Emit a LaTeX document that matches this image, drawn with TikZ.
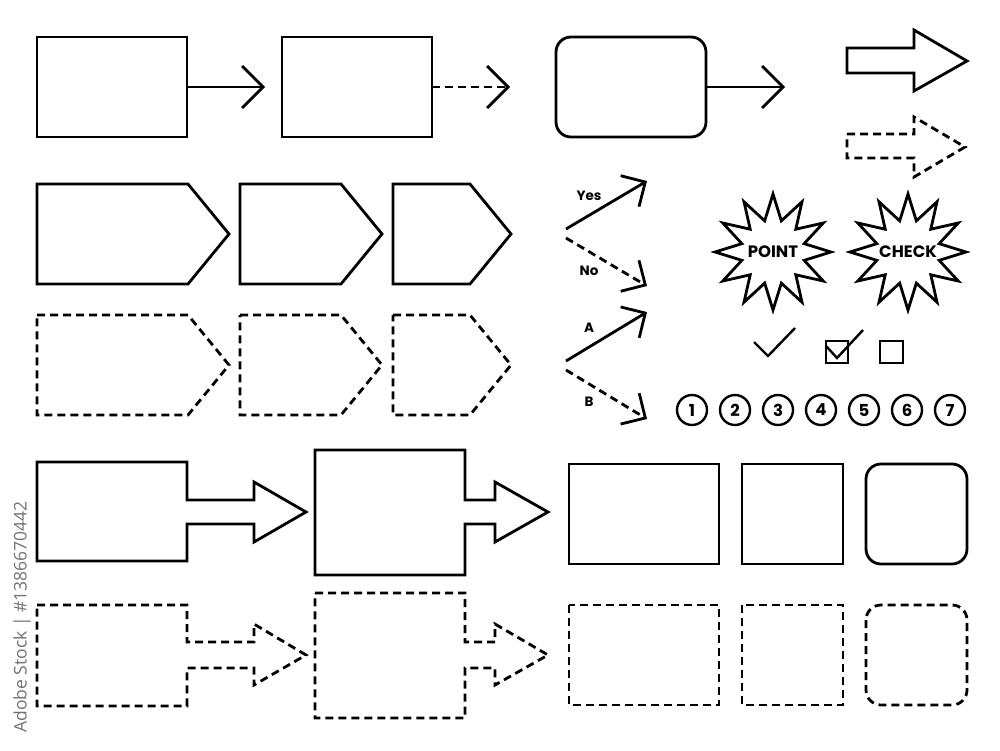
\documentclass[tikz,border=0pt]{standalone}
\usepackage{fontspec}
\newfontfamily\pop{Poppins}
\newfontfamily\wmfont{Open Sans}
\usetikzlibrary{arrows.meta,shapes.geometric}
\tikzset{
  ln/.style={line width=2.8pt, line join=miter},
  dsh/.style={ln, dash pattern=on 8pt off 5pt},
  thin/.style={line width=2.4pt, line join=miter},
  boxs/.style={ln, draw, rectangle, minimum width=150pt, minimum height=100pt, inner sep=0pt, outer sep=0pt},
  chev/.style={-{Straight Barb[length=21pt,width=42pt]}},
  chevd/.style={-{Straight Barb[length=18pt,width=36pt]}},
  lbl/.style={font=\pop\bfseries\fontsize{13.5}{13.5}\selectfont, inner sep=0pt},
  burst/.style={ln, draw, star, star points=12, star point ratio=1.8, minimum size=116pt, inner sep=0pt},
  bursttext/.style={font=\pop\bfseries\fontsize{16.5}{16.5}\selectfont, inner sep=0pt},
  num/.style={thin, draw, circle, minimum size=30pt, inner sep=0pt, font=\pop\bfseries\fontsize{16.5}{16.5}\selectfont},
}
\begin{document}
\begin{tikzpicture}[x=1pt,y=-1pt]
\fill[white] (0,0) rectangle (1000,750);
\useasboundingbox (0,0) rectangle (1000,750);

% Row 1
\node[boxs] (A) at (112,87) {};
\coordinate (Aend) at (265,87);
\draw[ln,chev] (A.east) -- (Aend);
\node[boxs] (B) at (357,87) {};
\coordinate (Bend) at (510,87);
\draw[dsh,chev] (B.east) -- (Bend);
\node[boxs, rounded corners=15pt] (C) at (631,87) {};
\coordinate (Cend) at (785,87);
\draw[ln,chev] (C.east) -- (Cend);

% block arrows top right
\draw[ln] (847,48) -- (914,48) -- (914,30) -- (967,61) -- (914,91) -- (914,73) -- (847,73) -- cycle;
\draw[dsh] (847,134) -- (914,134) -- (914,117) -- (965,147) -- (914,177) -- (914,158) -- (847,158) -- cycle;

% pentagons
\draw[ln] (37,184) -- (188,184) -- (229,234) -- (188,284) -- (37,284) -- cycle;
\draw[ln] (240,184) -- (341,184) -- (382,234) -- (341,284) -- (240,284) -- cycle;
\draw[ln] (393,184) -- (470,184) -- (511,234) -- (470,284) -- (393,284) -- cycle;
\draw[dsh] (37,315) -- (188,315) -- (229,365) -- (188,415) -- (37,415) -- cycle;
\draw[dsh] (240,315) -- (341,315) -- (382,365) -- (341,415) -- (240,415) -- cycle;
\draw[dsh] (393,315) -- (470,315) -- (511,365) -- (470,415) -- (393,415) -- cycle;

% yes/no and A/B arrows
\coordinate (ys) at (566,229); \coordinate (ye) at (647,181);
\coordinate (ns) at (566,238); \coordinate (ne) at (647,286);
\coordinate (as) at (566,361); \coordinate (ae) at (647,312);
\coordinate (bs) at (566,370); \coordinate (be) at (647,419);
\draw[ln,chevd] (ys) -- (ye);
\draw[dsh,chevd] (ns) -- (ne);
\draw[ln,chevd] (as) -- (ae);
\draw[dsh,chevd] (bs) -- (be);
\node[lbl] (tyes) at (589,196) {Yes};
\node[lbl] (tno) at (589,271) {No};
\node[lbl] (ta) at (589,328) {A};
\node[lbl] (tb) at (589,402) {B};

% starbursts
\node[burst] (s1) at (773,252) {};
\node[bursttext] (s1t) at (s1.center) {POINT};
\node[burst] (s2) at (908,252) {};
\node[bursttext] (s2t) at (s2.center) {CHECK};

% checks
\draw[thin] (754,342) -- (768,356) -- (795,328);
\draw[thin] (826,341) rectangle (848,363);
\draw[thin] (826,346) -- (837,358) -- (863,330);
\draw[thin] (880,341) rectangle (903,363);

% numbered circles
\foreach \i in {1,...,7} {
  \node[num] (n\i) at ({692+43*(\i-1)},410) {\i};
}

% box + block arrow shapes
\draw[ln] (37,462) -- (187,462) -- (187,500) -- (254,500) -- (254,482) -- (306,512) -- (254,542) -- (254,524) -- (187,524) -- (187,561) -- (37,561) -- cycle;
\draw[ln] (315,450) -- (465,450) -- (465,500) -- (495,500) -- (495,482) -- (548,512) -- (495,542) -- (495,524) -- (465,524) -- (465,575) -- (315,575) -- cycle;
\draw[dsh] (37,605) -- (187,605) -- (187,642) -- (254,642) -- (254,624) -- (306,655) -- (254,685) -- (254,668) -- (187,668) -- (187,706) -- (37,706) -- cycle;
\draw[dsh] (315,593) -- (465,593) -- (465,642) -- (495,642) -- (495,624) -- (548,655) -- (495,685) -- (495,668) -- (465,668) -- (465,718) -- (315,718) -- cycle;

% plain boxes
\draw[ln] (569,464) rectangle (719,564);
\draw[ln] (742,464) rectangle (843,564);
\draw[ln, rounded corners=15pt] (866,464) rectangle (967,564);
\draw[dsh] (569,605) rectangle (719,705);
\draw[dsh] (742,605) rectangle (843,705);
\draw[dsh, rounded corners=15pt] (866,605) rectangle (967,705);

% watermark id
\node[rotate=90, text=black!55, font=\wmfont\fontsize{17.5}{17.5}\selectfont, inner sep=0pt] (wm) at (22,617) {Adobe Stock | \#1386670442};
\end{tikzpicture}
\end{document}
